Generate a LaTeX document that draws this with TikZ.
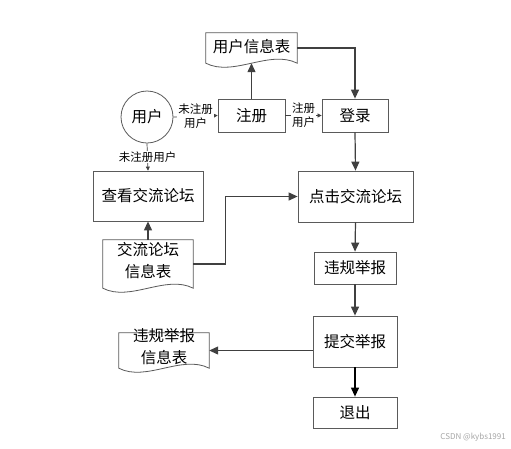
\documentclass[tikz,border=0pt]{standalone}
\usepackage{fontspec}
\setmainfont{Noto Sans CJK SC}
\usetikzlibrary{arrows.meta,calc}
\definecolor{boxgray}{HTML}{5A5A5A}
\definecolor{linegray}{HTML}{404040}
\newcommand\docoutline[1]{%
  \draw[docline] (#1.north west) -- (#1.north east) -- (#1.south east)
    .. controls ($(#1.south east)!0.3!(#1.south west)+(0,-14)$)
    and ($(#1.south east)!0.7!(#1.south west)+(0,14)$) .. (#1.south west) -- cycle;}
\begin{document}
\begin{tikzpicture}[x=1pt,y=-1pt,
  box/.style={draw=boxgray, line width=0.8pt, inner sep=0pt, font=\fontsize{15.5}{18}\selectfont},
  docbox/.style={inner sep=0pt},
  docline/.style={draw=boxgray, line width=0.8pt},
  doctext/.style={inner sep=0pt, align=center, font=\fontsize{15.5}{22}\selectfont},
  arr/.style={draw=linegray, line width=1.2pt, -{Triangle[length=9pt,width=8pt]}},
  blackarr/.style={draw=black, line width=1.2pt, -{Triangle[length=9pt,width=8pt]}},
  thinarr/.style={draw=linegray, line width=0.7pt, -{Triangle[length=4pt,width=4pt]}},
  lbl/.style={fill=white, inner sep=1pt, font=\fontsize{11.5}{14}\selectfont, align=center}]
\useasboundingbox[fill=white] (0,0) rectangle (511,448);

% document shapes
\node[docbox, minimum width=91pt, minimum height=30pt] (userdb) at (251.5,48) {};
\docoutline{userdb}
\node[doctext] (userdbtext) at (251.5,46.5) {用户信息表};

\node[docbox, minimum width=90pt, minimum height=48pt] (forumdb) at (148,264) {};
\docoutline{forumdb}
\node[doctext] (forumdbtext) at (148,261) {交流论坛\\信息表};

\node[docbox, minimum width=90pt, minimum height=35pt] (reportdb) at (164,350.5) {};
\docoutline{reportdb}
\node[doctext] (reportdbtext) at (164,347) {违规举报\\信息表};

% circle
\node[draw=boxgray, line width=0.8pt, circle, minimum size=52pt, inner sep=0pt,
      font=\fontsize{15.5}{18}\selectfont] (user) at (147,117) {用户};

% boxes
\node[box, minimum width=67pt, minimum height=33pt] (reg) at (251.5,115.5) {注册};
\node[box, minimum width=66pt, minimum height=33pt] (login) at (355,115.5) {登录};
\node[box, minimum width=110pt, minimum height=50pt] (view) at (148,196) {查看交流论坛};
\node[box, minimum width=115pt, minimum height=51pt] (click) at (355.5,196.5) {点击交流论坛};
\node[box, minimum width=82pt, minimum height=32pt] (violate) at (355,268) {违规举报};
\node[box, minimum width=84pt, minimum height=51pt] (submit) at (355,341.5) {提交举报};
\node[box, minimum width=84pt, minimum height=31pt] (exit) at (355,412.5) {退出};

% connectors
\draw[arr] (userdb.east) -| (login.north);
\draw[arr] (reg.north) -- (userdb.south);
\draw[thinarr] (user.east) -- node[lbl] (lblreg) {未注册\\用户} (reg.west);
\draw[thinarr] (reg.east) -- node[lbl] (lbllogin) {注册\\用户} (login.west);
\draw[thinarr] (user.south) -- node[lbl] (lblview) {未注册用户} (view.north);
\draw[arr] (forumdb.north) -- (view.south);
\draw[arr] (forumdb.east) -- ++(32,0) |- (click.west);
\draw[arr] (login.south) -- (click.north);
\draw[arr] (click.south) -- (violate.north);
\draw[arr] (violate.south) -- (submit.north);
\draw[arr] (submit.west |- reportdb.east) -- (reportdb.east);
\draw[blackarr] (submit.south) -- (exit.north);

% watermark
\node[anchor=east, inner sep=0pt, text=gray!70, font=\fontsize{8}{10}\selectfont] (mark) at (506,437) {CSDN @kybs1991};
\end{tikzpicture}
\end{document}
